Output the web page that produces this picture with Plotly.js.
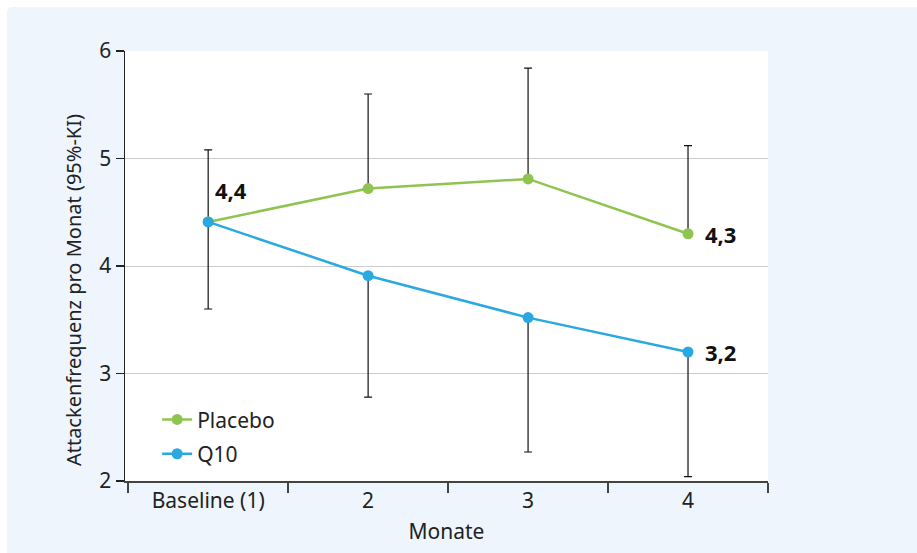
<!DOCTYPE html>
<html>
<head>
<meta charset="utf-8">
<script src="https://cdn.plot.ly/plotly-3.0.1.min.js"></script>
<style>
  html, body { margin: 0; padding: 0; background: #ffffff; width: 917px; height: 553px; overflow: hidden; }
  #chart { position: absolute; left: 7px; top: 7px; width: 910px; height: 546px; border-top-left-radius: 6px; overflow: hidden; background: #eef5fd; }
</style>
</head>
<body>
<div id="chart"></div>
<script>
const categories = ["Baseline (1)", "2", "3", "4"];
const placebo = [4.41, 4.72, 4.81, 4.30];
const q10 = [4.41, 3.91, 3.52, 3.20];
const placeboUpper = [5.08, 5.60, 5.84, 5.12];
const q10Lower = [3.60, 2.78, 2.27, 2.04];
const yTicks = [2, 3, 4, 5, 6];
const yTitle = "Attackenfrequenz pro Monat (95%-KI)";
const xTitle = "Monate";

const green = "#8fc450";
const blue = "#2aa9e0";
const FONT = "Noto Sans, DejaVu Sans, sans-serif";

const fmt = v => v.toFixed(1).replace(".", ",");

const traces = [
  {
    x: categories, y: placebo, name: "Placebo", type: "scatter", mode: "lines+markers",
    legendgroup: "a",
    line: { color: green, width: 2.5 }, marker: { color: green, size: 11 },
    error_y: { type: "data", symmetric: false, array: placebo.map((v, i) => placeboUpper[i] - v),
               arrayminus: placebo.map(() => 0), color: "#111111", thickness: 1.2, width: 4 }
  },
  {
    x: categories, y: q10, name: "Q10", type: "scatter", mode: "lines+markers",
    legendgroup: "b",
    line: { color: blue, width: 2.5 }, marker: { color: blue, size: 11 },
    error_y: { type: "data", symmetric: false, array: q10.map(() => 0),
               arrayminus: q10.map((v, i) => v - q10Lower[i]), color: "#111111", thickness: 1.2, width: 4 }
  }
];

const last = categories.length - 1;
const annotations = [
  { x: 0, y: placebo[0], text: "<b>" + fmt(placebo[0]) + "</b>", xanchor: "left", xshift: 5, yshift: 32 },
  { x: last, y: placebo[last], text: "<b>" + fmt(placebo[last]) + "</b>", xanchor: "left", xshift: 15, yshift: 0 },
  { x: last, y: q10[last], text: "<b>" + fmt(q10[last]) + "</b>", xanchor: "left", xshift: 15, yshift: 0 }
].map(a => Object.assign({ xref: "x", yref: "y", showarrow: false, font: { family: FONT, size: 22, color: "#111111" } }, a));

annotations.push({
  xref: "paper", yref: "paper", x: 0, y: 0.444, xanchor: "center", yanchor: "middle",
  xshift: -52, textangle: -90, showarrow: false, text: yTitle,
  font: { family: FONT, size: 20, color: "#222222" }
});

const layout = {
  width: 910, height: 546,
  paper_bgcolor: "#eef5fd", plot_bgcolor: "#ffffff",
  margin: { l: 118, r: 149, t: 44, b: 72, pad: 0 },
  font: { family: FONT, size: 21, color: "#222222" },
  showlegend: true,
  legend: { x: 0.05, y: 0.19, xanchor: "left", yanchor: "top", bgcolor: "rgba(0,0,0,0)",
            font: { family: FONT, size: 21, color: "#222222" }, traceorder: "grouped", tracegroupgap: 4, itemwidth: 30 },
  xaxis: {
    type: "category", range: [-0.52, 3.5], tickson: "boundaries",
    ticks: "outside", ticklen: 10, tickcolor: "#444444", tickwidth: 1.5,
    showline: true, linecolor: "#444444", linewidth: 2, showgrid: false, zeroline: false,
    tickfont: { family: FONT, size: 21, color: "#222222" },
    title: { text: xTitle, font: { family: FONT, size: 21, color: "#222222" }, standoff: 11 },
    fixedrange: true
  },
  yaxis: {
    range: [2, 6], tickvals: yTicks, ticktext: yTicks.map(String),
    ticks: "outside", ticklen: 8, tickcolor: "#222222", tickwidth: 1.2,
    showline: true, linecolor: "#222222", linewidth: 1.5,
    showgrid: true, gridcolor: "#cccccc", gridwidth: 1, zeroline: false,
    tickfont: { family: FONT, size: 21, color: "#222222" },
    fixedrange: true
  },
  annotations: annotations
};

Plotly.newPlot("chart", traces, layout, { displayModeBar: false, staticPlot: true });
</script>
</body>
</html>
